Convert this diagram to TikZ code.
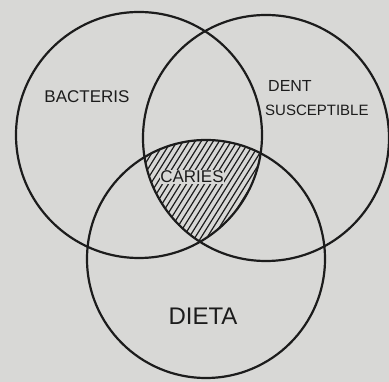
\documentclass[tikz,border=0pt]{standalone}
\usepackage{fontspec}
\setmainfont{Liberation Sans}
\usepackage{xcolor}
\definecolor{paper}{HTML}{D8D8D6}
\definecolor{ink}{HTML}{1C1C1C}
\usepackage{tikz}
\usetikzlibrary{positioning}

\begin{document}
\begin{tikzpicture}[
        x=1pt, y=-1pt,
        set/.style={draw=ink, circle, line width=2.2pt, inner sep=0pt},
        hatch/.style={draw=ink, line width=1.2pt},
        label/.style={font=\fontsize{17}{17}\selectfont, text=ink, inner sep=1pt},
        small/.style={font=\fontsize{15}{15}\selectfont, text=ink, inner sep=1pt}
    ]
        % Paper
        \fill[paper] (0,0) rectangle (389,382);
        \useasboundingbox (0,0) rectangle (389,382);

        % Hatched core (all three sets)
        \begin{scope}
            \clip (139,135) circle (123pt);
            \clip (266,138) circle (123pt);
            \clip (206,259) circle (119pt);
            \foreach \i in {-60,-54,...,300}
                \draw[hatch] (\i,300) -- ++(110,-176);
        \end{scope}

        % Sets
        \node[set, minimum size=246pt] (bact) at (139,135) {};
        \node[set, minimum size=246pt] (dent) at (266,138) {};
        \node[set, minimum size=238pt] (diet) at (206,259) {};

        % Labels
        \node[label] (lbact) at (87,97) {BACTERIS};
        \node[small, anchor=west, font=\fontsize{16}{16}\selectfont] (ldent) at (267,86) {DENT};
        \node[small, anchor=west] (lsusc) at (264,110) {SUSCEPTIBLE};
        \node[label, fill=paper, inner sep=0.5pt] (lcar) at (192,177) {CARIES};
        \node[label, font=\fontsize{24}{24}\selectfont] (ldiet) at (203,316) {DIETA};
    \end{tikzpicture}
\end{document}
